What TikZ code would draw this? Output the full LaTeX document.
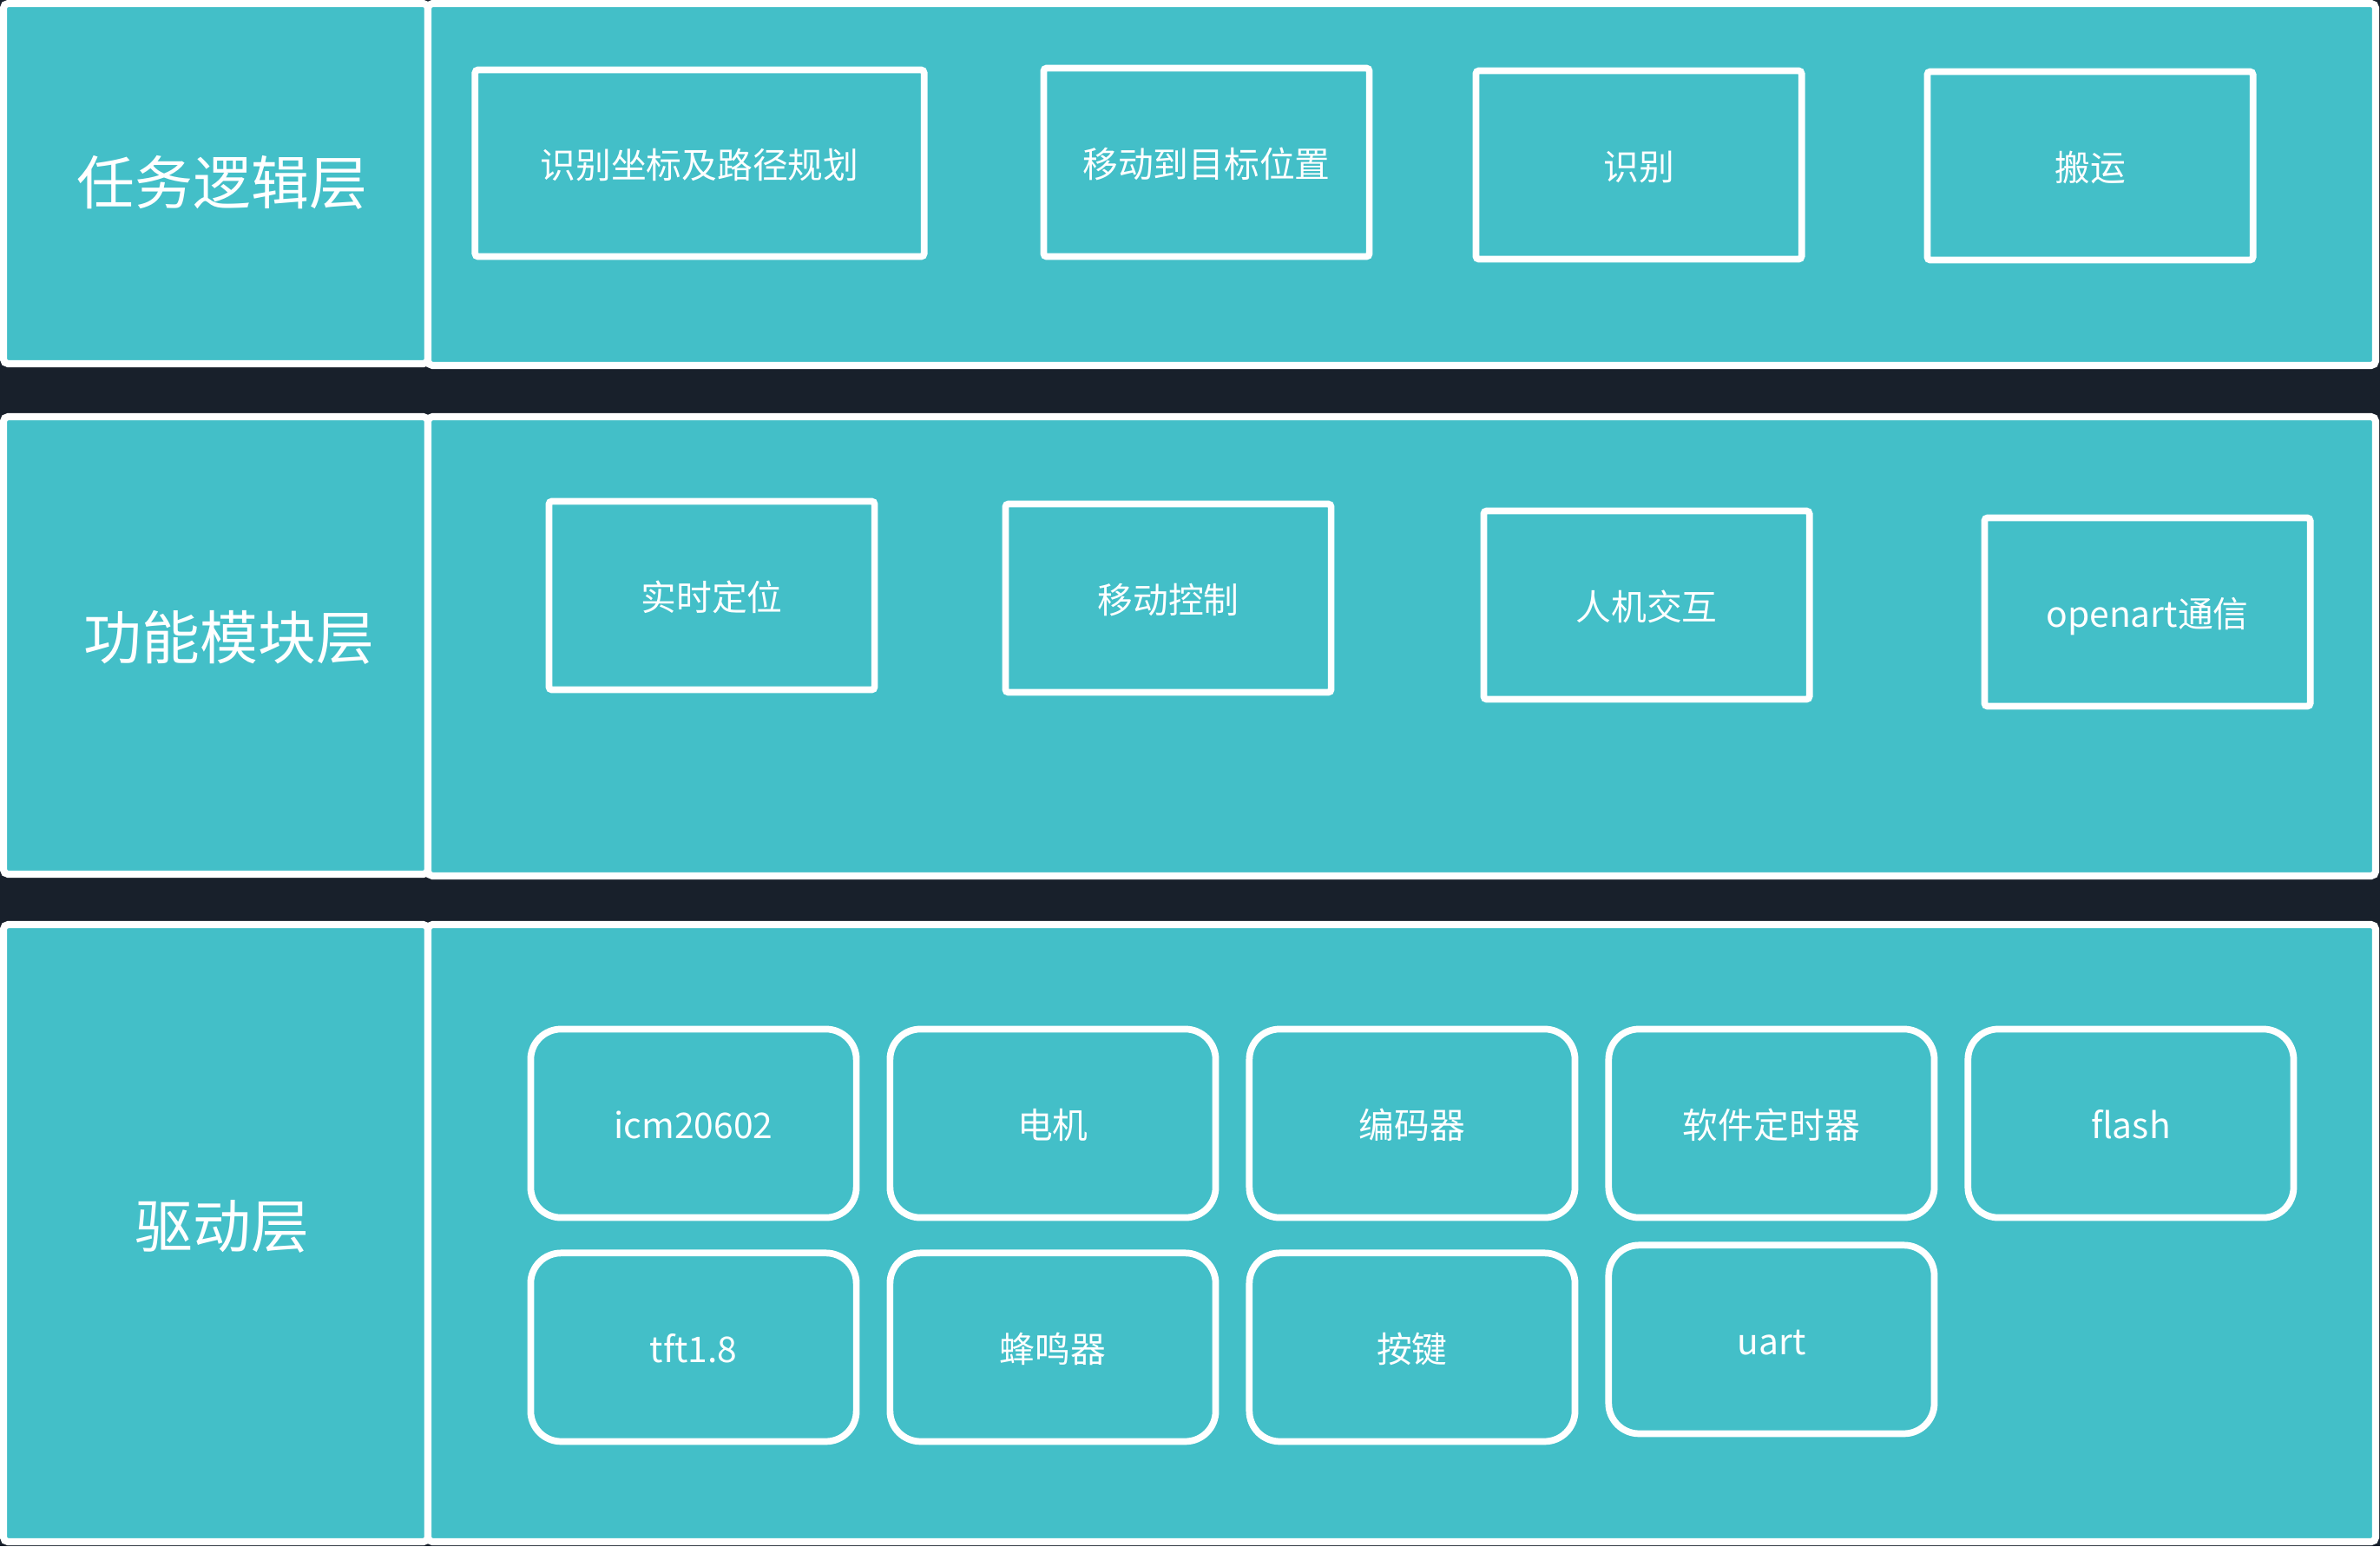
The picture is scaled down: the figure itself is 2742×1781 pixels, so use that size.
\documentclass[tikz,border=0pt]{standalone}
\usepackage{fontspec}
\setmainfont{Noto Sans CJK SC}
\usetikzlibrary{positioning}
\definecolor{bgdark}{HTML}{18202B}
\definecolor{layerteal}{HTML}{43BFC8}

\begin{document}
\begin{tikzpicture}[x=0.01cm, y=-0.01cm,
  layer/.style={draw=white, fill=layerteal, line width=2.3pt, rounded corners=1.5pt},
  tag/.style={text=white, font=\fontsize{19}{22}\selectfont},
  task/.style={draw=white, line width=2.2pt, rounded corners=1pt, minimum width=3.75cm,
               minimum height=2.17cm, text=white, text height=1.0em, text depth=0em,
               inner sep=0pt, font=\fontsize{11.6}{14}\selectfont},
  drv/.style={task, rounded corners=0.35cm},
  node distance=0.31cm]
% background and the three layers
\fill[bgdark] (0,0) rectangle (2742,1781);
\useasboundingbox (0,0) rectangle (2742,1781);
\draw[layer] (4,4) rectangle (493,419);
\draw[layer] (493,4) rectangle (2737,421);
\draw[layer] (4,480) rectangle (493,1007);
\draw[layer] (493,480) rectangle (2737,1009);
\draw[layer] (4,1065) rectangle (493,1776);
\draw[layer] (493,1065) rectangle (2737,1776);
\node[tag] (lyr1) at (256,210) {任务逻辑层};
\node[tag] (lyr2) at (264,734) {功能模块层};
\node[tag] (lyr3) at (256,1413) {驱动层};
% task logic
\node[task, minimum width=5.17cm, minimum height=2.15cm] (plan) at (806,188) {识别坐标及路径规划};
\node[task] (move) at (1390,187) {移动到目标位置};
\node[task] (recog) at (1888,190) {识别};
\node[task] (carry) at (2408,191) {搬运};
% function modules
\node[task] (locate) at (820,686) {实时定位};
\node[task] (motion) at (1346,689) {移动控制};
\node[task] (hmi) at (1897,697) {人机交互};
\node[task] (openart) at (2474,705) {openart通信};
% drivers
\node[drv] (imu) at (799,1294) {icm20602};
\node[drv, right=of imu] (motor) {电机};
\node[drv, right=of motor] (encoder) {编码器};
\node[drv, right=of encoder] (softtimer) {软件定时器};
\node[drv, right=of softtimer] (flash) {flash};
\node[drv, below=0.33cm of imu] (tft) {tft1.8};
\node[drv, below=0.33cm of motor] (buzzer) {蜂鸣器};
\node[drv, below=0.33cm of encoder] (key) {按键};
\node[drv, below=0.24cm of softtimer] (uart) {uart};
\end{tikzpicture}
\end{document}
